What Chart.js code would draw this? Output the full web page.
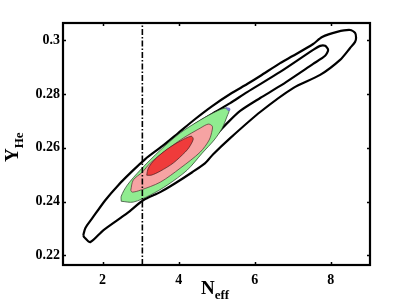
<!DOCTYPE html>
<html>
<head>
<meta charset="utf-8">
<script src="https://cdn.jsdelivr.net/npm/chart.js@4.4.1/dist/chart.umd.min.js"></script>
<style>
  html, body { margin: 0; padding: 0; background: #fff; }
  #wrap { position: relative; width: 409px; height: 308px; }
  #c { position: absolute; left: 0; top: 0; }
  .ttl { position: absolute; font-family: "Liberation Serif", serif; font-weight: bold; color: #000; line-height: 1; white-space: nowrap; }
  .ttl sub { font-size: 13px; vertical-align: -5px; }
  #xt { left: 201px; top: 278px; font-size: 19px; }
  #yt { left: 0; top: 0; font-size: 19px; transform-origin: left top; transform: translate(2px, 162px) rotate(-90deg); }
</style>
</head>
<body>
<div id="wrap">
  <canvas id="c" width="409" height="308"></canvas>
  <div class="ttl" id="xt">N<sub>eff</sub></div>
  <div class="ttl" id="yt">Y<sub>He</sub></div>
</div>
<script>
// ---- axis ranges and ticks ----
const xRange = [0.96, 9.03];
const yRange = [0.2164, 0.3064];
const xTicks = [2, 4, 6, 8];
const yTicks = [0.22, 0.24, 0.26, 0.28, 0.30];
const yTickLabels = ["0.22", "0.24", "0.26", "0.28", "0.3"];
const nStandard = 3.046;

// ---- outer black contour (95%) ----
const outerN = [1.493, 1.546, 1.730, 2.071, 2.413, 2.780, 3.122, 3.568, 3.989, 4.435, 4.882, 5.355, 5.801, 6.143, 6.668, 7.009, 7.535, 7.771, 8.165, 8.507, 8.638, 8.664,
                8.638, 8.507, 8.244, 7.719, 7.009, 6.143, 5.355, 4.908, 4.698, 4.356, 3.910, 3.516, 3.069, 2.649, 2.018, 1.677, 1.519, 1.493];
const outerY = [0.2275, 0.2301, 0.2338, 0.2405, 0.2461, 0.2513, 0.2558, 0.2606, 0.2655, 0.2707, 0.2755, 0.2800, 0.2837, 0.2867, 0.2915, 0.2942, 0.2986, 0.3012, 0.3031, 0.3038, 0.3027, 0.3009,
                0.2994, 0.2971, 0.2927, 0.2871, 0.2822, 0.2733, 0.2636, 0.2576, 0.2543, 0.2509, 0.2468, 0.2435, 0.2405, 0.2357, 0.2293, 0.2249, 0.2267, 0.2275];

// ---- inner black contour (68%) ----
const innerN = [4.173, 4.356, 4.567, 4.961, 5.355, 5.801, 6.668, 7.535, 7.719, 7.850, 7.929,
                7.850, 7.535, 6.668, 6.143, 5.617, 5.249, 4.934, 4.567, 4.173];
const innerY = [0.2610, 0.2677, 0.2699, 0.2733, 0.2766, 0.2807, 0.2882, 0.2964, 0.2979, 0.2979, 0.2964,
                0.2942, 0.2912, 0.2830, 0.2785, 0.2737, 0.2688, 0.2643, 0.2629, 0.2610];

// ---- green region ----
const greenN = [2.491, 2.807, 3.253, 3.700, 4.225, 4.619, 4.934, 5.144, 5.276, 5.328, 5.249, 5.013, 4.567, 4.041, 3.516, 2.990, 2.649, 2.491, 2.491];
const greenY = [0.2401, 0.2398, 0.2424, 0.2461, 0.2517, 0.2580, 0.2629, 0.2673, 0.2718, 0.2740, 0.2748, 0.2737, 0.2703, 0.2655, 0.2591, 0.2517, 0.2461, 0.2420, 0.2401];

// ---- pink region ----
const pinkN = [2.741, 2.807, 3.043, 3.253, 3.647, 4.120, 4.567, 4.777, 4.882, 4.882, 4.803, 4.567, 4.041, 3.516, 2.990, 2.780, 2.741];
const pinkY = [0.2442, 0.2480, 0.2509, 0.2543, 0.2588, 0.2636, 0.2673, 0.2688, 0.2681, 0.2666, 0.2629, 0.2584, 0.2524, 0.2472, 0.2442, 0.2435, 0.2442];

// ---- red region ----
const redN = [3.161, 3.201, 3.384, 3.700, 4.041, 4.330, 4.383, 4.278, 4.173, 3.857, 3.516, 3.279, 3.161];
const redY = [0.2498, 0.2524, 0.2558, 0.2595, 0.2625, 0.2643, 0.2632, 0.2602, 0.2584, 0.2543, 0.2513, 0.2498, 0.2498];

// ---- small blue sliver ----
const blueN = [5.24, 5.34, 5.35, 5.30, 5.24];
const blueY = [0.2749, 0.2747, 0.2740, 0.2738, 0.2749];

function pts(xs, ys) { return xs.map((x, i) => ({ x: x, y: ys[i] })); }

const frame = {
  id: 'frame',
  afterDatasetsDraw(chart) {
    const { ctx, chartArea: a, scales } = chart;
    ctx.save();
    ctx.strokeStyle = '#000';
    ctx.lineWidth = 1.5;
    const L = 3;
    ctx.beginPath();
    xTicks.forEach(v => {
      const px = Math.round(scales.x.getPixelForValue(v)) + 0.5;
      ctx.moveTo(px, a.bottom); ctx.lineTo(px, a.bottom - L);
      ctx.moveTo(px, a.top); ctx.lineTo(px, a.top + L);
    });
    yTicks.forEach(v => {
      const py = Math.round(scales.y.getPixelForValue(v)) + 0.5;
      ctx.moveTo(a.left, py); ctx.lineTo(a.left + L, py);
      ctx.moveTo(a.right, py); ctx.lineTo(a.right - L, py);
    });
    ctx.stroke();
    ctx.lineWidth = 2.2;
    ctx.strokeRect(a.left, a.top, a.right - a.left, a.bottom - a.top);
    ctx.restore();
  }
};

const tickFont = { family: 'Liberation Serif', weight: 'bold', size: 14 };

new Chart(document.getElementById('c'), {
  type: 'scatter',
  data: {
    datasets: [
      { data: [{ x: nStandard, y: yRange[0] }, { x: nStandard, y: yRange[1] }], showLine: true, borderColor: '#000', borderWidth: 1.6, borderDash: [6, 2, 1.5, 2], pointRadius: 0, fill: false },
      { data: pts(redN, redY), showLine: true, borderColor: 'rgba(70,30,30,0.9)', borderWidth: 0.8, backgroundColor: '#ef3b3b', fill: 'shape', pointRadius: 0, tension: 0.3 },
      { data: pts(pinkN, pinkY), showLine: true, borderColor: 'rgba(80,50,50,0.9)', borderWidth: 0.8, backgroundColor: '#f6a3a3', fill: 'shape', pointRadius: 0, tension: 0.3 },
      { data: pts(blueN, blueY), showLine: true, borderColor: '#5a5ab8', borderWidth: 0.6, backgroundColor: '#8080e0', fill: 'shape', pointRadius: 0, tension: 0.2 },
      { data: pts(greenN, greenY), showLine: true, borderColor: 'rgba(40,60,40,0.9)', borderWidth: 0.8, backgroundColor: '#90ec90', fill: 'shape', pointRadius: 0, tension: 0.3 },
      { data: pts(innerN, innerY), showLine: true, borderColor: '#000', borderWidth: 2.2, fill: false, pointRadius: 0, tension: 0.25 },
      { data: pts(outerN, outerY), showLine: true, borderColor: '#000', borderWidth: 2.2, fill: false, pointRadius: 0, tension: 0.25 }
    ]
  },
  options: {
    responsive: false,
    animation: false,
    devicePixelRatio: 1,
    layout: { padding: { top: 23, right: 39, left: 0, bottom: 0 } },
    plugins: { legend: { display: false }, tooltip: { enabled: false } },
    scales: {
      x: {
        type: 'linear', min: xRange[0], max: xRange[1],
        afterBuildTicks: s => { s.ticks = xTicks.map(v => ({ value: v })); },
        afterFit: s => { s.height = 43; },
        grid: { display: false, drawTicks: false },
        border: { display: false },
        ticks: { font: tickFont, color: '#000', padding: 7, maxRotation: 0, callback: v => String(v) }
      },
      y: {
        type: 'linear', min: yRange[0], max: yRange[1],
        afterBuildTicks: s => { s.ticks = yTicks.map(v => ({ value: v })); },
        afterFit: s => { s.width = 63; },
        grid: { display: false, drawTicks: false },
        border: { display: false },
        ticks: { font: tickFont, color: '#000', padding: 3, callback: (v) => { const i = yTicks.findIndex(t => Math.abs(t - v) < 1e-6); return i >= 0 ? yTickLabels[i] : ''; } }
      }
    }
  },
  plugins: [frame]
});
</script>
</body>
</html>
